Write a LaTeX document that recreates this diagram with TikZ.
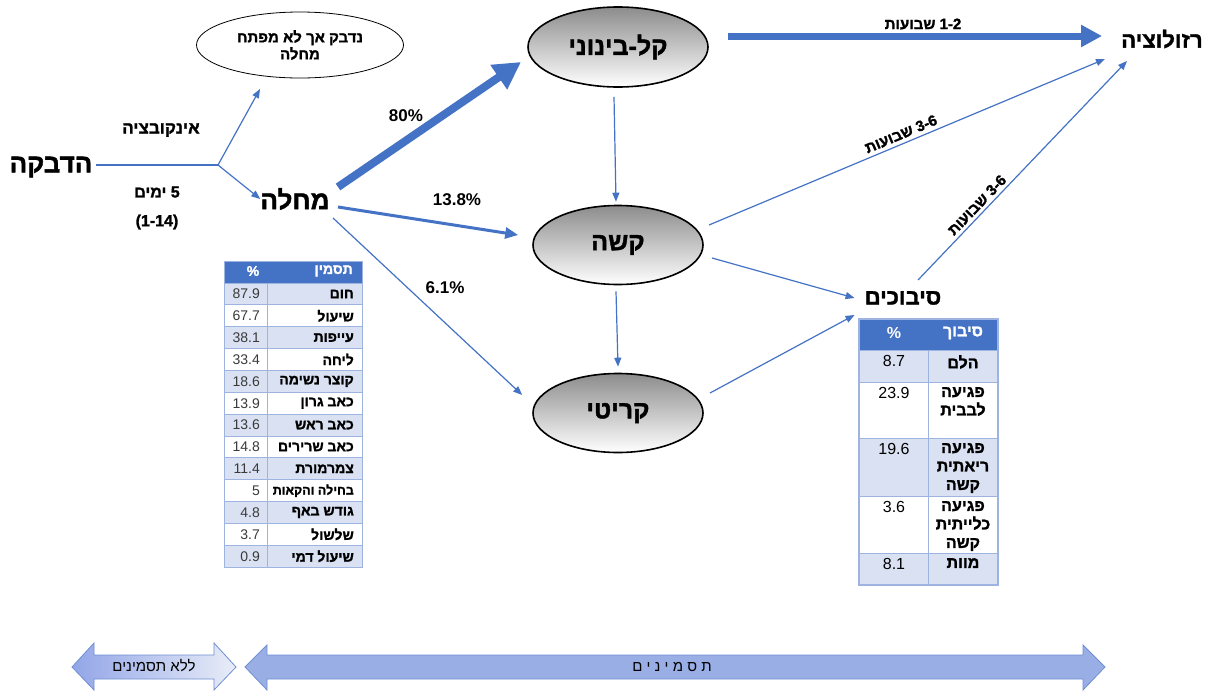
\documentclass[tikz,border=0pt]{standalone}
\usepackage{fontspec}
\setmainfont{Liberation Sans}
\newfontfamily\heb[Script=Hebrew,BoldFeatures={FakeBold=1.5}]{Liberation Sans}
\TeXXeTstate=1
\usetikzlibrary{arrows.meta,shapes.geometric,calc}
\definecolor{lineblue}{HTML}{4472C4}
\definecolor{rowblue}{HTML}{D9E1F2}
\definecolor{gridblue}{HTML}{9DB3E0}
\definecolor{barblue}{HTML}{9AAEE6}
\definecolor{barline}{HTML}{6F8FD2}
\definecolor{numgray}{HTML}{3A3A3A}
\newcommand\heR[1]{\beginR#1\endR}
\tikzset{
  conn/.style={draw=lineblue, line width=1.2pt, -{Triangle[length=9pt,width=7pt]}},
  plainln/.style={draw=lineblue, line width=1.2pt},
  sev/.style={ellipse, draw=black, line width=1.6pt, top color=black!45, bottom color=white,
    font=\heb\bfseries\fontsize{25}{28}\selectfont, inner sep=0pt},
  bigtxt/.style={font=\heb\bfseries\fontsize{26}{30}\selectfont, inner sep=0pt},
  midtxt/.style={font=\heb\bfseries\fontsize{22}{26}\selectfont, inner sep=0pt},
  lbl/.style={font=\heb\bfseries\fontsize{16}{19}\selectfont, inner sep=0pt},
  pct/.style={font=\bfseries\fontsize{17}{20}\selectfont, inner sep=0pt},
  celltxt/.style={font=\heb\bfseries\fontsize{14}{16}\selectfont, inner sep=0pt},
  numtxt/.style={font=\fontsize{14}{16}\selectfont, text=numgray, inner sep=0pt},
  rcell/.style={font=\heb\bfseries\fontsize{16}{18.5}\selectfont, inner sep=0pt, align=center},
  rnum/.style={font=\fontsize{16}{18}\selectfont, inner sep=0pt},
  hdr/.style={font=\heb\bfseries\fontsize{14}{16}\selectfont, text=white, inner sep=0pt},
  cellbox/.style={draw=gridblue, line width=0.8pt},
}
\begin{document}
\begin{tikzpicture}[x=1pt,y=-1pt]
\useasboundingbox[fill=white] (0,0) rectangle (1216,691);

% ---- left part ----
\node[bigtxt] (hadbaka) at (51,167) {\heR{הדבקה}};
\node[lbl, font=\heb\bfseries\fontsize{17}{20}\selectfont] (incub) at (161,130) {\heR{אינקובציה}};
\node[lbl] (days) at (157,192) {\heR{ימים} 5};
\node[lbl] (range) at (157,222) {(1-14)};
\coordinate (junc) at (218,165);
\coordinate (upend) at (260,89);
\node[bigtxt] (machala) at (295,199) {\heR{מחלה}};
\node[ellipse, draw=black, line width=0.8pt, fill=white, minimum width=207pt, minimum height=66pt,
  font=\heb\bfseries\fontsize{15}{17}\selectfont, align=center, inner sep=0pt] (carrier) at (300,45)
  {\heR{נדבק אך לא מפתח}\\\heR{מחלה}};

\coordinate (hstart) at (96,165);
\draw[plainln] (hstart) -- (junc);
\draw[conn] (junc) -- (upend);
\draw[conn] (junc) -- (machala.west);

% ---- severity ellipses ----
\node[sev, minimum width=180pt, minimum height=80pt] (kal) at (618,47) {\heR{קל-בינוני}};
\node[sev, minimum width=170pt, minimum height=79pt] (kashe) at (618,245) {\heR{קשה}};
\node[sev, minimum width=170pt, minimum height=79pt] (kriti) at (618,413) {\heR{קריטי}};

\coordinate (m1) at (338,187);
\coordinate (m2) at (338,207);
\coordinate (m3) at (333,218);
\coordinate (k1) at (521,62);
\draw[draw=lineblue, line width=8pt, -{Triangle[length=27pt,width=28pt]}] (m1) -- (k1);
\draw[draw=lineblue, line width=3pt, -{Triangle[length=13pt,width=11pt]}] (m2) -- ($(kashe.west)+(-14,-10)$);
\draw[conn] (m3) -- ($(kriti.west)+(-10,-18)$);
\node[pct] (p80) at (406,116) {80\%};
\node[pct] (p138) at (457,200) {13.8\%};
\node[pct] (p61) at (445,288) {6.1\%};

\draw[conn] ($(kal.south)+(-4,9)$) -- ($(kashe.north)+(-2,-3)$);
\draw[conn] ($(kashe.south)+(-2,6)$) -- ($(kriti.north)+(0,-6)$);

% ---- right part ----
\node[midtxt] (resol) at (1162,39) {\heR{רזולוציה}};
\node[midtxt] (sibuch) at (903,298) {\heR{סיבוכים}};
\draw[draw=lineblue, line width=7pt, -{Triangle[length=21pt,width=21pt]}] ($(kal.east)+(19,-11)$) -- ($(resol.west)+(-19,-3)$);
\node[lbl, font=\heb\bfseries\fontsize{15}{18}\selectfont] (w12) at (923,24) {\heR{שבועות} 1-2};

\coordinate (ks) at (709,225);
\coordinate (r1) at (1105,59);
\coordinate (r2) at (1127,61);
\coordinate (ss) at (918,280);
\draw[conn] (ks) -- (r1);
\draw[conn] (ss) -- (r2);
\node[lbl, font=\heb\bfseries\fontsize{15}{18}\selectfont, rotate=22.7] (w36a) at (901,134) {\heR{שבועות} 3-6};
\node[lbl, font=\heb\bfseries\fontsize{15}{18}\selectfont, rotate=46] (w36b) at (977,205) {\heR{שבועות} 3-6};

\draw[conn] (712,258) -- ($(sibuch.west)+(-10,0)$);
\draw[conn] (710,393) -- ($(sibuch.south west)+(-10,10)$);

% ---- left table (symptoms) ----
\fill[lineblue] (224,261) rectangle (362,283);
\node[hdr] (lhp) at (253,271) {\%};
\node[hdr, anchor=east] (lhs) at (353,271) {\heR{תסמין}};
\foreach \nm/\val [count=\i] in {חום/87.9, שיעול/67.7, עייפות/38.1, ליחה/33.4, קוצר נשימה/18.6,
  כאב גרון/13.9, כאב ראש/13.6, כאב שרירים/14.8, צמרמורת/11.4,
  {\fontsize{12.5}{14}\selectfont בחילה והקאות}/5, גודש באף/4.8, שלשול/3.7, שיעול דמי/0.9}{
  \pgfmathsetmacro{\yt}{283+(\i-1)*21.85}
  \ifodd\i \def\cf{rowblue}\else\def\cf{white}\fi
  \path[cellbox, fill=\cf] (224,\yt) rectangle (267,{\yt+21.85});
  \path[cellbox, fill=\cf] (267,\yt) rectangle (362,{\yt+21.85});
  \node[numtxt, anchor=east] (sv\i) at (260,{\yt+11}) {\val};
  \node[celltxt, anchor=east] (sn\i) at (354,{\yt+11}) {\heR{\nm}};
}
\draw[draw=gridblue, line width=0.8pt] (224,261) rectangle (362,567);

% ---- right table (complications) ----
\fill[lineblue] (859,319) rectangle (998,350);
\node[hdr, font=\bfseries\fontsize{16}{18}\selectfont] (rhp) at (894,333) {\%};
\node[hdr, font=\heb\bfseries\fontsize{16}{18}\selectfont] (rhs) at (963,333) {\heR{סיבוך}};
\path[cellbox, fill=rowblue] (859,350) rectangle (928,382);
\path[cellbox, fill=rowblue] (928,350) rectangle (998,382);
\path[cellbox, fill=white] (859,382) rectangle (928,438);
\path[cellbox, fill=white] (928,382) rectangle (998,438);
\path[cellbox, fill=rowblue] (859,438) rectangle (928,496);
\path[cellbox, fill=rowblue] (928,438) rectangle (998,496);
\path[cellbox, fill=white] (859,496) rectangle (928,553);
\path[cellbox, fill=white] (928,496) rectangle (998,553);
\path[cellbox, fill=rowblue] (859,553) rectangle (928,585);
\path[cellbox, fill=rowblue] (928,553) rectangle (998,585);
\draw[draw=gridblue, line width=1.2pt] (859,319) rectangle (998,585);
\node[rnum, anchor=north] (c1n) at (894,355) {8.7};
\node[rcell, anchor=north] (c1t) at (963,355) {\heR{הלם}};
\node[rnum, anchor=north] (c2n) at (894,387) {23.9};
\node[rcell, anchor=north] (c2t) at (963,387) {\heR{פגיעה}\\\heR{לבבית}};
\node[rnum, anchor=north] (c3n) at (894,443) {19.6};
\node[rcell, anchor=north] (c3t) at (963,443) {\heR{פגיעה}\\\heR{ריאתית}\\\heR{קשה}};
\node[rnum, anchor=north] (c4n) at (894,501) {3.6};
\node[rcell, anchor=north] (c4t) at (963,501) {\heR{פגיעה}\\\heR{כלייתית}\\\heR{קשה}};
\node[rnum, anchor=north] (c5n) at (894,558) {8.1};
\node[rcell, anchor=north] (c5t) at (963,558) {\heR{מוות}};

% ---- bottom arrows ----
\path[draw=barline, line width=0.8pt, left color=barblue!95!blue, right color=rowblue!60!white]
  (72,667) -- (94,643) -- (94,655) -- (214,655) -- (214,643) -- (236,667) -- (214,690) -- (214,679)
  -- (94,679) -- (94,690) -- cycle;
\path[draw=barline, line width=0.8pt, fill=barblue]
  (245,667) -- (267,645) -- (267,655) -- (1083,655) -- (1083,645) -- (1105,667) -- (1083,690)
  -- (1083,679) -- (267,679) -- (267,690) -- cycle;
\node[font=\heb\fontsize{15}{17}\selectfont, inner sep=0pt] (nosym) at (154,666) {\heR{ללא תסמינים}};
\node[font=\heb\fontsize{15}{17}\selectfont, inner sep=0pt] (sym) at (672,667) {\heR{ת ס מ י נ י ם}};
\end{tikzpicture}
\end{document}
